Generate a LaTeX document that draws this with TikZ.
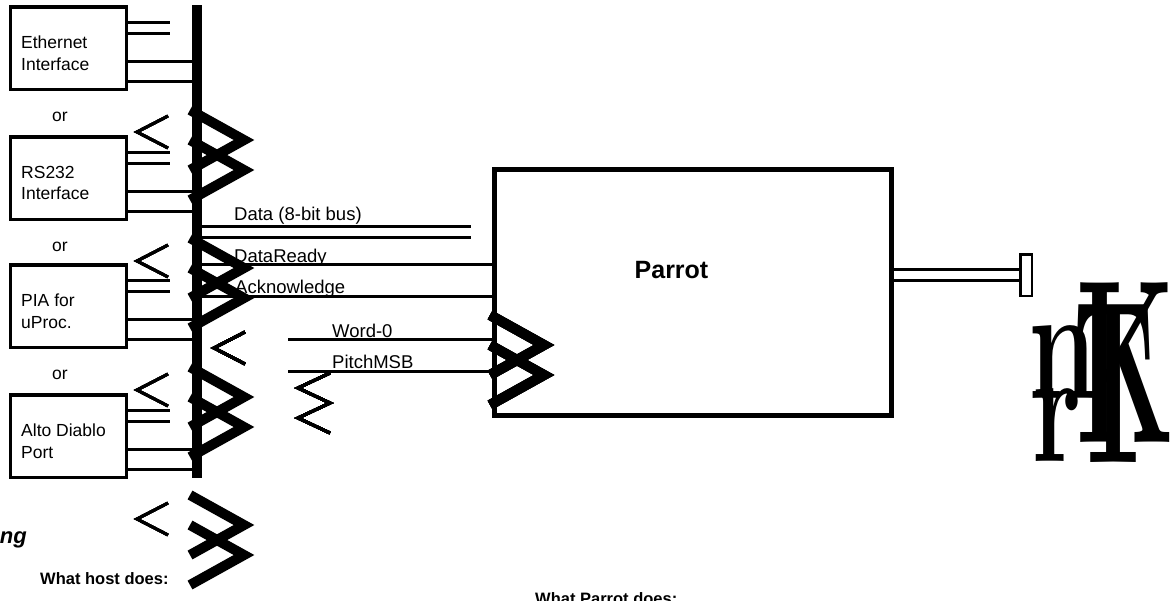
\documentclass[tikz,border=0pt]{standalone}
\usepackage{fontspec}
\newfontfamily\arialfnt{Liberation Sans}
% two crossed chevrons (left end x, top y)
\newcommand\chevs[2]{\draw[chev] (#1,#2)--++(54,30)--++(-54,30) (#1,#2+30)--++(54,30)--++(-54,30);}
% thin less-than sign (tip x, tip y)
\newcommand\lesssign[2]{\draw[ltsign] (#1+31,#2-16)--(#1,#2)--(#1+31,#2+16);}
\begin{document}
\begin{tikzpicture}[x=1pt,y=-1pt,line join=miter,
  ifbox/.style={draw,line width=3.5pt,minimum width=116pt,minimum height=82.5pt,inner sep=0pt,outer sep=0pt,anchor=north west},
  boxtxt/.style={font=\arialfnt\fontsize{17.5}{21.7}\selectfont,align=left,anchor=west,inner sep=0pt},
  sig/.style={font=\arialfnt\fontsize{18.5}{22}\selectfont,anchor=base west,inner sep=0pt},
  hdr/.style={font=\arialfnt\bfseries\fontsize{16.5}{20}\selectfont,anchor=base west,inner sep=0pt},
  glyph/.style={anchor=base west,inner sep=0pt},
  wire/.style={line width=3pt},
  chev/.style={line width=10pt},
  ltsign/.style={line width=3pt}]
\useasboundingbox (0,0) rectangle (1173,600);
\node[fill,minimum width=10pt,minimum height=473pt,inner sep=0pt,outer sep=0pt] (bus) at (197,241.5) {};
\foreach \t/\nm/\txt in {5/eth/{Ethernet\\Interface},135/rs/{RS232\\Interface},263/pia/{PIA for\\uProc.},393/alto/{Alto Diablo\\Port}}{
  \node[ifbox] (\nm) at (10.3,\t+1.75) {};
  \node[boxtxt] (\nm txt) at (21,\t+48) {\txt};
  \draw[wire] (\nm.east|-0,\t+17.5)--++(44,0) (\nm.east|-0,\t+28)--++(44,0)
    (\nm.east|-0,\t+56)--(bus.west|-0,\t+56) (\nm.east|-0,\t+76)--(bus.west|-0,\t+76);
}
\foreach \y in {117,247,375} \node[boxtxt,anchor=center] (or\y) at (60,\y) {or};
% Parrot
\node[draw,line width=5pt,minimum width=397pt,minimum height=246.5pt] (parrot) at (693,292.25) {};
\node[font=\arialfnt\bfseries\fontsize{25}{30}\selectfont,anchor=base,inner sep=0pt] (parrottxt) at (671.5,278) {Parrot};
\node[draw,line width=2.5pt,minimum width=11.5pt,minimum height=41.5pt,inner sep=0pt] (plug) at (1026,275) {};
\draw[wire] (parrot.east|-0,269)--(plug.west|-0,269) (parrot.east|-0,280)--(plug.west|-0,280);
% signals
\coordinate (dataend) at (471,226);
\coordinate (wstart) at (288,339);
\draw[wire] (bus.east|-dataend)--(dataend) (bus.east|-0,237)--(dataend|-0,237);
\draw[wire] (bus.east|-0,264)--(parrot.west|-0,264) (bus.east|-0,296)--(parrot.west|-0,296);
\draw[wire] (wstart)--(parrot.west|-wstart) (wstart|-0,371)--(parrot.west|-0,371);
\node[sig] (lbldata) at (234,220) {Data (8-bit bus)};
\node[sig] (lblrdy) at (234,262) {DataReady};
\node[sig] (lblack) at (235,293) {Acknowledge};
\node[sig] (lblword) at (332,337) {Word-0};
\node[sig] (lblpitch) at (332,368) {PitchMSB};
% glyph marks
\foreach \y in {110,238,367,495} \chevs{190}{\y}
\chevs{490}{315}
\foreach \y in {132,261,390,519} \lesssign{137}{\y}
\lesssign{214}{348}
\draw[ltsign] (330,373)--(298,388)--(330,403)--(298,418)--(330,433);
\node[glyph,font=\bfseries\fontsize{162}{162}\selectfont] (gn) at (1028,398) {\scalebox{0.68}[1]{n}};
\node[glyph,font=\bfseries\fontsize{162}{162}\selectfont] (gr) at (1032,461) {\scalebox{0.66}[1]{r}};
\node[glyph,font=\bfseries\fontsize{233}{233}\selectfont] (gk) at (1076,442) {\scalebox{0.48}[1]{K}};
\node[glyph,font=\bfseries\fontsize{233}{233}\selectfont] (gt) at (1072,462) {\scalebox{0.45}[1]{T}};
% bottom texts
\node[font=\arialfnt\bfseries\itshape\fontsize{22}{26}\selectfont,anchor=base east,inner sep=0pt] (ng) at (27,543) {ng};
\node[hdr] (hostdoes) at (40,584) {What host does:};
\node[hdr] (parrotdoes) at (535,604) {What Parrot does:};
\end{tikzpicture}
\end{document}
